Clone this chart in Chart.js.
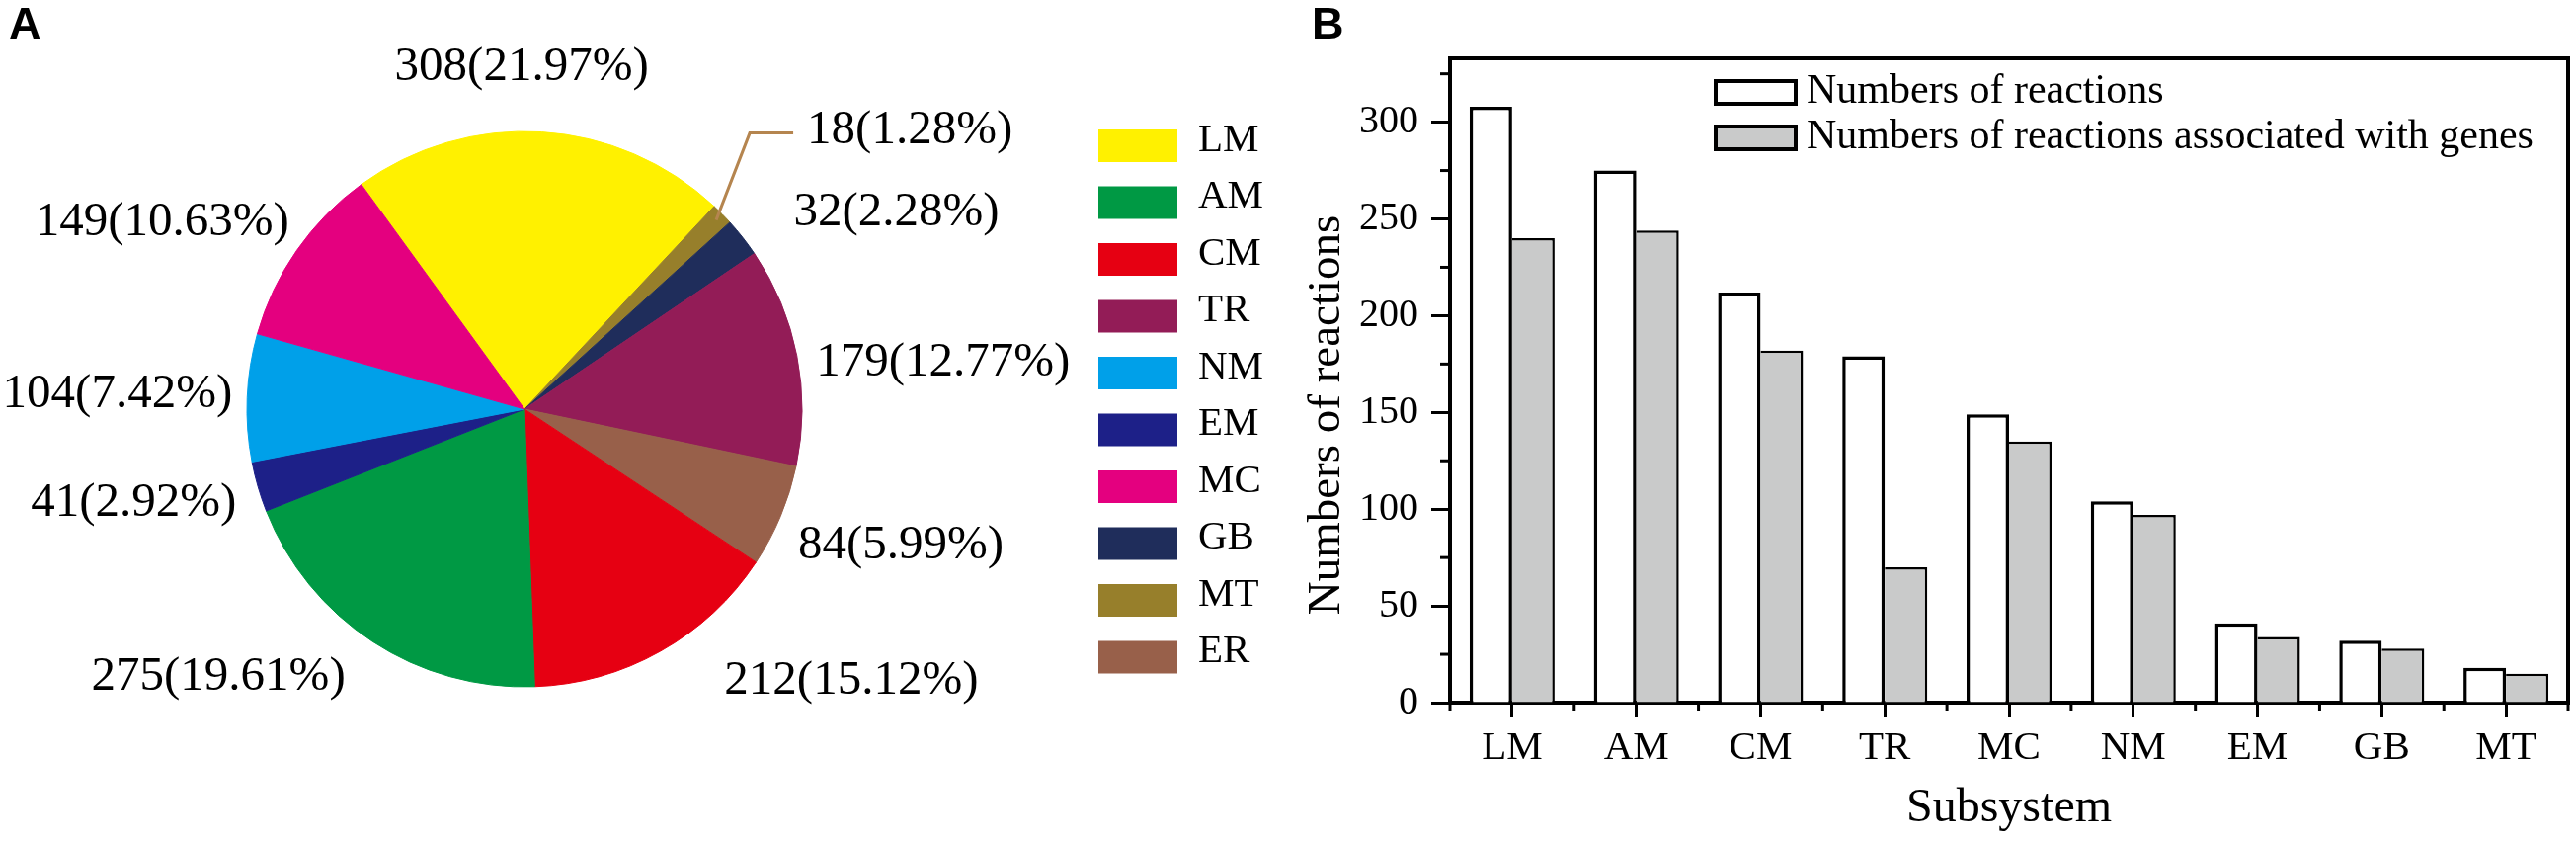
<!DOCTYPE html>
<html><head><meta charset="utf-8">
<script src="https://cdn.jsdelivr.net/npm/chart.js@4.4.1/dist/chart.umd.min.js"></script>
<style>
html,body{margin:0;padding:0;background:#fff;}
body{width:2608px;height:855px;position:relative;overflow:hidden;}
#pieBox{position:absolute;left:0;top:0;width:1300px;height:855px;}
#barBox{position:absolute;left:1300px;top:0;width:1308px;height:855px;}
.panel{position:absolute;font-family:'Liberation Sans',Arial,sans-serif;font-weight:bold;font-size:45px;line-height:45px;color:#000;}
</style></head><body>
<div id="pieBox"><canvas id="pie"></canvas></div>
<div id="barBox"><canvas id="bar"></canvas></div>
<div class="panel" style="left:9px;top:1px">A</div>
<div class="panel" style="left:1328px;top:1px">B</div>
<script>
// ---------- data ----------
const pieLabels = ['LM','MT','GB','TR','ER','CM','AM','EM','NM','MC'];
const pieValues = [308, 18, 32, 179, 84, 212, 275, 41, 104, 149];
const legendOrder = ['LM','AM','CM','TR','NM','EM','MC','GB','MT','ER'];

const categories = ['LM','AM','CM','TR','MC','NM','EM','GB','MT'];
const totalReactions = [308, 275, 212, 179, 149, 104, 41, 32, 18];
const geneReactions = [240, 244, 182, 70, 135, 97, 34, 28, 15];
const yTicksMajor = 50;

// ---------- styles ----------
const sliceColors = {
  LM:'#fff100', AM:'#009944', CM:'#e60012', TR:'#931c57', NM:'#00a0e9',
  EM:'#1d2088', MC:'#e4007f', GB:'#1f2d5b', MT:'#977f2b', ER:'#98604a'
};
const labelNudge = {LM:[-22,-35], GB:[28,-7], TR:[-10,13], ER:[-10,18], CM:[50,4], AM:[-11,11], EM:[7,8], NM:[15,-2], MC:[17,-11]};
const SERIF = "'Liberation Serif','Times New Roman',serif";
Chart.defaults.font.family = SERIF;
Chart.defaults.color = '#000';

// ---------- pie plugins ----------
const pieLabelPlugin = {
  id: 'pieLabels',
  afterDatasetsDraw(chart) {
    const ctx = chart.ctx;
    const meta = chart.getDatasetMeta(0);
    const total = pieValues.reduce((a, b) => a + b, 0);
    ctx.save();
    ctx.font = '49px ' + SERIF;
    ctx.fillStyle = '#000';
    ctx.textBaseline = 'middle';
    meta.data.forEach((arc, i) => {
      const cat = pieLabels[i];
      const text = pieValues[i] + '(' + (pieValues[i] / total * 100).toFixed(2) + '%)';
      const mid = (arc.startAngle + arc.endAngle) / 2;
      const R = arc.outerRadius, cx = arc.x, cy = arc.y;
      const c = Math.cos(mid), s = Math.sin(mid);
      if (cat === 'MT') {
        const sx = cx + R * 0.97 * c, sy = cy + R * 0.97 * s;
        const kx = sx + 34, ky = sy - 88, ex = kx + 44;
        ctx.strokeStyle = '#b5854f';
        ctx.lineWidth = 3;
        ctx.lineJoin = 'miter';
        ctx.beginPath(); ctx.moveTo(sx, sy); ctx.lineTo(kx, ky); ctx.lineTo(ex, ky); ctx.stroke();
        ctx.textAlign = 'left';
        ctx.fillText(text, ex + 14, ky - 2);
        return;
      }
      const r = R + 30;
      const n = labelNudge[cat] || [0, 0];
      ctx.textAlign = c > 0.25 ? 'left' : (c < -0.25 ? 'right' : 'center');
      ctx.fillText(text, cx + r * c + n[0], cy + r * s + n[1]);
    });
    ctx.restore();
  }
};
const pieLegendPlugin = {
  id: 'pieLegend',
  afterDraw(chart) {
    const ctx = chart.ctx, a = chart.chartArea;
    const x0 = a.right + 50;
    const top0 = (a.top + a.bottom) / 2 - 283;
    ctx.save();
    ctx.font = '41px ' + SERIF;
    ctx.textBaseline = 'middle';
    ctx.textAlign = 'left';
    legendOrder.forEach((cat, k) => {
      const y = top0 + k * 57.5;
      ctx.fillStyle = sliceColors[cat];
      ctx.fillRect(x0, y, 80, 33);
      ctx.fillStyle = '#000';
      ctx.fillText(cat, x0 + 101, y + 11);
    });
    ctx.restore();
  }
};

new Chart(document.getElementById('pie'), {
  type: 'pie',
  data: {
    labels: pieLabels,
    datasets: [{
      data: pieValues,
      backgroundColor: pieLabels.map(c => sliceColors[c]),
      borderColor: pieLabels.map(c => sliceColors[c]),
      borderWidth: 1,
      rotation: -36,
      radius: 281
    }]
  },
  options: {
    responsive: true, maintainAspectRatio: false, animation: false,
    rotation: -36,
    layout: {padding: {left: 0, right: 238, top: 0, bottom: 27}},
    plugins: {legend: {display: false}, tooltip: {enabled: false}}
  },
  plugins: [pieLabelPlugin, pieLegendPlugin]
});

// ---------- bar plugins ----------
const barDecor = {
  id: 'barDecor',
  afterDraw(chart) {
    const ctx = chart.ctx, a = chart.chartArea, x = chart.scales.x, y = chart.scales.y;
    ctx.save();
    ctx.strokeStyle = '#000';
    ctx.lineWidth = 4;
    ctx.beginPath(); ctx.moveTo(a.left - 2, a.top); ctx.lineTo(a.right, a.top); ctx.lineTo(a.right, a.bottom + 2); ctx.stroke();
    ctx.lineWidth = 3;
    for (let v = yTicksMajor / 2; v < y.max; v += yTicksMajor) {
      const py = y.getPixelForValue(v);
      ctx.beginPath(); ctx.moveTo(a.left - 10, py); ctx.lineTo(a.left, py); ctx.stroke();
    }
    for (let i = 0; i <= categories.length; i++) {
      const px = x.getPixelForValue(i - 0.5);
      ctx.beginPath(); ctx.moveTo(px, a.bottom); ctx.lineTo(px, a.bottom + 8); ctx.stroke();
    }
    // y-axis title
    ctx.save();
    ctx.translate(y.left + 44, a.bottom - 291);
    ctx.rotate(-Math.PI / 2);
    ctx.font = '47px ' + SERIF;
    ctx.fillStyle = '#000';
    ctx.textAlign = 'center';
    ctx.textBaseline = 'middle';
    ctx.fillText('Numbers of reactions', 0, 0);
    ctx.restore();
    // legend
    const bx = a.left + 269;
    ctx.font = '42px ' + SERIF;
    ctx.textBaseline = 'middle';
    ctx.textAlign = 'left';
    chart.data.datasets.forEach((ds, k) => {
      const yb = a.top + 23 + k * 46;
      ctx.fillStyle = ds.backgroundColor;
      ctx.fillRect(bx, yb, 81, 23);
      ctx.lineWidth = 4;
      ctx.strokeRect(bx, yb, 81, 23);
      ctx.fillStyle = '#000';
      ctx.fillText(ds.label, bx + 92, yb + 11);
    });
    ctx.restore();
  }
};

new Chart(document.getElementById('bar'), {
  type: 'bar',
  data: {
    labels: categories,
    datasets: [
      {label: 'Numbers of reactions', data: totalReactions, backgroundColor: '#ffffff', borderColor: '#000',
       borderWidth: {left: 3.5, top: 3.5, right: 3.5, bottom: 0}, borderSkipped: false},
      {label: 'Numbers of reactions associated with genes', data: geneReactions, backgroundColor: '#c9caca', borderColor: '#000',
       borderWidth: {left: 0, top: 2.5, right: 2.5, bottom: 0}, borderSkipped: false}
    ]
  },
  options: {
    responsive: true, maintainAspectRatio: false, animation: false,
    layout: {padding: {top: 59, right: 8, left: 0, bottom: 0}},
    datasets: {bar: {categoryPercentage: 0.684, barPercentage: 1}},
    plugins: {legend: {display: false}, tooltip: {enabled: false}},
    scales: {
      x: {
        grid: {offset: false, drawOnChartArea: false, drawTicks: true, tickLength: 14, tickWidth: 3, tickColor: '#000'},
        border: {display: true, width: 4, color: '#000'},
        ticks: {font: {size: 41}, color: '#000', padding: 8, maxRotation: 0, autoSkip: false},
        title: {display: true, text: 'Subsystem', font: {size: 48}, color: '#000', padding: {top: 0, bottom: 8}},
        afterFit(s) { s.height = 144; }
      },
      y: {
        min: 0, max: 333,
        ticks: {stepSize: yTicksMajor, includeBounds: false, font: {size: 40}, color: '#000', padding: 13},
        grid: {drawOnChartArea: false, drawTicks: true, tickLength: 19, tickWidth: 3, tickColor: '#000'},
        border: {display: true, width: 4, color: '#000'},
        afterFit(s) { s.width = 168; }
      }
    }
  },
  plugins: [barDecor]
});
</script></body></html>
